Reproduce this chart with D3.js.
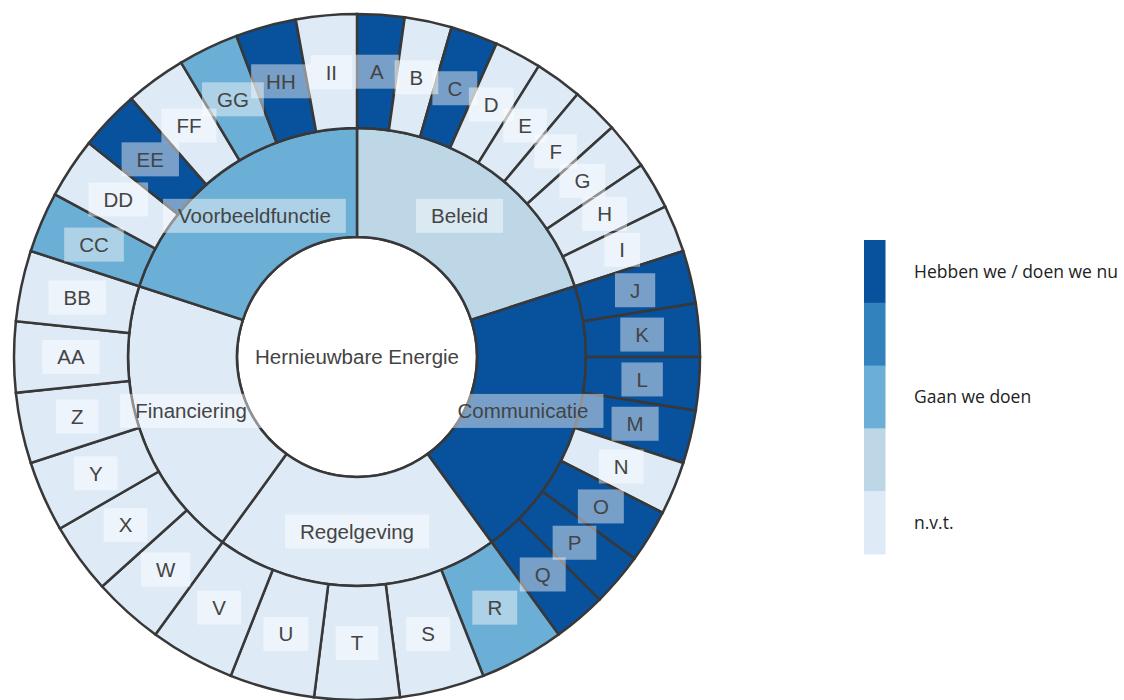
<!DOCTYPE html>
<html>
<head>
<meta charset="utf-8">
<script src="https://cdn.jsdelivr.net/npm/d3@7"></script>
<style>
  body { margin: 0; background: #fff; }
  .lbl text { font-family: "Liberation Sans", Arial, sans-serif; font-size: 20.5px; fill: #444; }
  .legend text { font-family: "Open Sans", sans-serif; font-size: 17.5px; fill: #222; }
</style>
</head>
<body>
<div class="chart"></div>
<script>
// sunburst: hernieuwbare energie
const w = 1124;
const h = 700;

const rootName = "Hernieuwbare Energie";
const categories = ["Beleid", "Communicatie", "Regelgeving", "Financiering", "Voorbeeldfunctie"];
const categoryStatus = [2, 5, 1, 1, 3];
const items = [
  ["A", "B", "C", "D", "E", "F", "G", "H", "I"],
  ["J", "K", "L", "M", "N", "O", "P", "Q"],
  ["R", "S", "T", "U", "V"],
  ["W", "X", "Y", "Z", "AA", "BB"],
  ["CC", "DD", "EE", "FF", "GG", "HH", "II"]
];
// 1 = n.v.t. ... 3 = gaan we doen ... 5 = hebben we / doen we nu
const itemStatus = [
  [5, 1, 5, 1, 1, 1, 1, 1, 1],
  [5, 5, 5, 5, 1, 5, 5, 5],
  [3, 1, 1, 1, 1],
  [1, 1, 1, 1, 1, 1],
  [3, 1, 5, 1, 3, 5, 1]
];
const legendLabels = ["Hebben we / doen we nu", "", "Gaan we doen", "", "n.v.t."];
const legendStatus = [5, 4, 3, 2, 1];

const color = d3.scaleOrdinal()
  .domain([1, 2, 3, 4, 5])
  .range(["#deebf7", "#bdd7e7", "#6baed6", "#3182bd", "#08519c"]);

let svg = d3.select(".chart").append("svg")
  .attr("width", w)
  .attr("height", h);

let g = svg.append("g").attr("transform", "translate(357,357)");

// every category gets the same share of the circle
let tree = {
  name: rootName,
  children: categories.map((c, i) => ({
    name: c,
    status: categoryStatus[i],
    children: items[i].map((it, j) => ({
      name: it,
      status: itemStatus[i][j],
      share: 1 / items[i].length
    }))
  }))
};

let root = d3.hierarchy(tree).sum(d => d.share || 0);
d3.partition().size([2 * Math.PI, 3])(root);

const rScale = d3.scaleLinear().domain([0, 1, 2, 3]).range([0, 120, 229, 343]);

let arc = d3.arc()
  .startAngle(d => d.x0)
  .endAngle(d => d.x1)
  .innerRadius(d => rScale(d.y0))
  .outerRadius(d => rScale(d.y1));

g.selectAll("path")
  .data(root.descendants())
  .enter()
  .append("path")
  .attr("d", arc)
  .style("fill", d => d.depth === 0 ? "#fff" : color(d.data.status))
  .style("stroke", "#383838")
  .style("stroke-width", 2.5);

// labels on top, with a see-through box
let labels = g.selectAll("g.lbl")
  .data(root.descendants())
  .enter()
  .append("g")
  .attr("class", "lbl")
  .attr("transform", d => {
    if (d.depth === 0) return "translate(0,0)";
    let a = (d.x0 + d.x1) / 2;
    let r = (rScale(d.y0) + rScale(d.y1)) / 2;
    return `translate(${r * Math.sin(a)},${-r * Math.cos(a)})`;
  });

labels.append("rect");
labels.append("text")
  .attr("text-anchor", "middle")
  .attr("dy", "0.36em")
  .text(d => d.data.name);

labels.each(function () {
  let t = d3.select(this).select("text").node().getComputedTextLength();
  d3.select(this).select("rect")
    .attr("x", -t / 2 - 15)
    .attr("y", -17)
    .attr("width", t + 30)
    .attr("height", 34)
    .style("fill", "#fff")
    .style("fill-opacity", 0.45);
});

// legend
let legend = svg.append("g").attr("class", "legend");
const bandH = 62.8;

legend.selectAll("rect")
  .data(legendStatus)
  .enter()
  .append("rect")
  .attr("x", 864)
  .attr("y", (d, i) => 240 + i * bandH)
  .attr("width", 21.5)
  .attr("height", bandH + 0.5)
  .style("fill", d => color(d));

legend.selectAll("text")
  .data(legendLabels)
  .enter()
  .append("text")
  .attr("x", 914)
  .attr("y", (d, i) => 240 + i * bandH + bandH / 2)
  .attr("dy", "0.35em")
  .text(d => d);
</script>
</body>
</html>
